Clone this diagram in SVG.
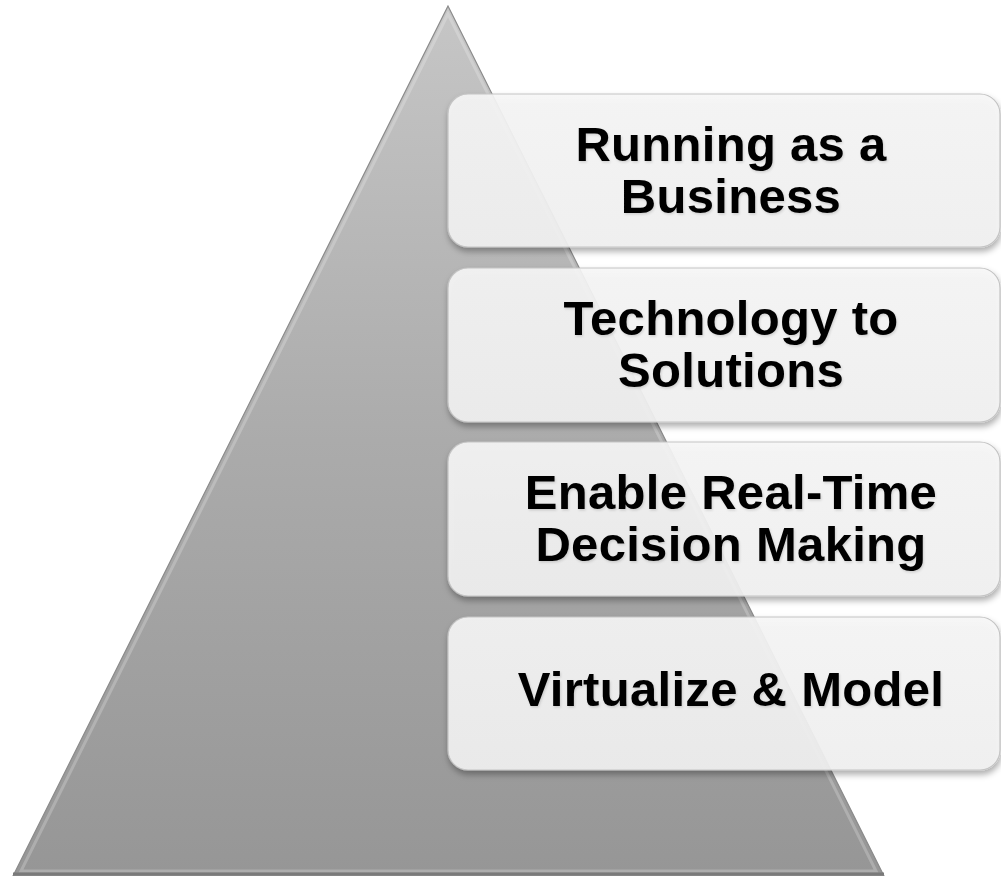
<svg xmlns="http://www.w3.org/2000/svg" width="1001" height="876" viewBox="0 0 1001 876">
  <defs>
    <linearGradient id="triGrad" x1="0" y1="0" x2="0" y2="1">
      <stop offset="0" stop-color="#c6c6c6"/>
      <stop offset="0.5" stop-color="#ababab"/>
      <stop offset="1" stop-color="#969696"/>
    </linearGradient>
    <linearGradient id="boxGrad" x1="0" y1="0" x2="0" y2="1">
      <stop offset="0" stop-color="#f7f7f7"/>
      <stop offset="1" stop-color="#f2f2f2"/>
    </linearGradient>
    <filter id="boxShadow" x="-5%" y="-10%" width="115%" height="130%">
      <feDropShadow dx="1" dy="4" stdDeviation="3" flood-color="#000" flood-opacity="0.35"/>
    </filter>
    <filter id="textShadow" x="-5%" y="-20%" width="110%" height="140%">
      <feDropShadow dx="1" dy="1.5" stdDeviation="1.2" flood-color="#000" flood-opacity="0.14"/>
    </filter>
  </defs>
  <style>
    .box { fill: url(#boxGrad); fill-opacity: 0.9; stroke: #c4c4c4; stroke-width: 1.2; filter: url(#boxShadow); }
    .lbl { font-family: "Liberation Sans", Arial, sans-serif; font-weight: bold; font-size: 49px; letter-spacing: 0.3px; fill: #000; text-anchor: middle; filter: url(#textShadow); }
  </style>
  <rect x="0" y="0" width="1001" height="876" fill="#ffffff"/>
  <g id="pyramid">
    <polygon points="448,6 13,876 884,876" fill="url(#triGrad)" stroke="#8a8a8a" stroke-width="1.2"/>
    <polygon points="448,14 21,871 876,871" fill="none" stroke="#ffffff" stroke-opacity="0.22" stroke-width="3"/>
    <line x1="13" y1="874" x2="884" y2="874" stroke="#7a7a7a" stroke-width="3"/>
  </g>
  <g id="connectors"/>
  <g id="node1">
    <rect class="box" x="448" y="94" width="552" height="153" rx="20" ry="20"/>
    <text class="lbl" x="731" y="161">Running as a</text>
    <text class="lbl" x="731" y="213">Business</text>
  </g>
  <g id="node2">
    <rect class="box" x="448" y="268" width="552" height="154" rx="20" ry="20"/>
    <text class="lbl" x="731" y="335">Technology to</text>
    <text class="lbl" x="731" y="387">Solutions</text>
  </g>
  <g id="node3">
    <rect class="box" x="448" y="442" width="552" height="154" rx="20" ry="20"/>
    <text class="lbl" x="731" y="509">Enable Real-Time</text>
    <text class="lbl" x="731" y="561">Decision Making</text>
  </g>
  <g id="node4">
    <rect class="box" x="448" y="617" width="552" height="153" rx="20" ry="20"/>
    <text class="lbl" x="731" y="706">Virtualize &amp; Model</text>
  </g>
</svg>
